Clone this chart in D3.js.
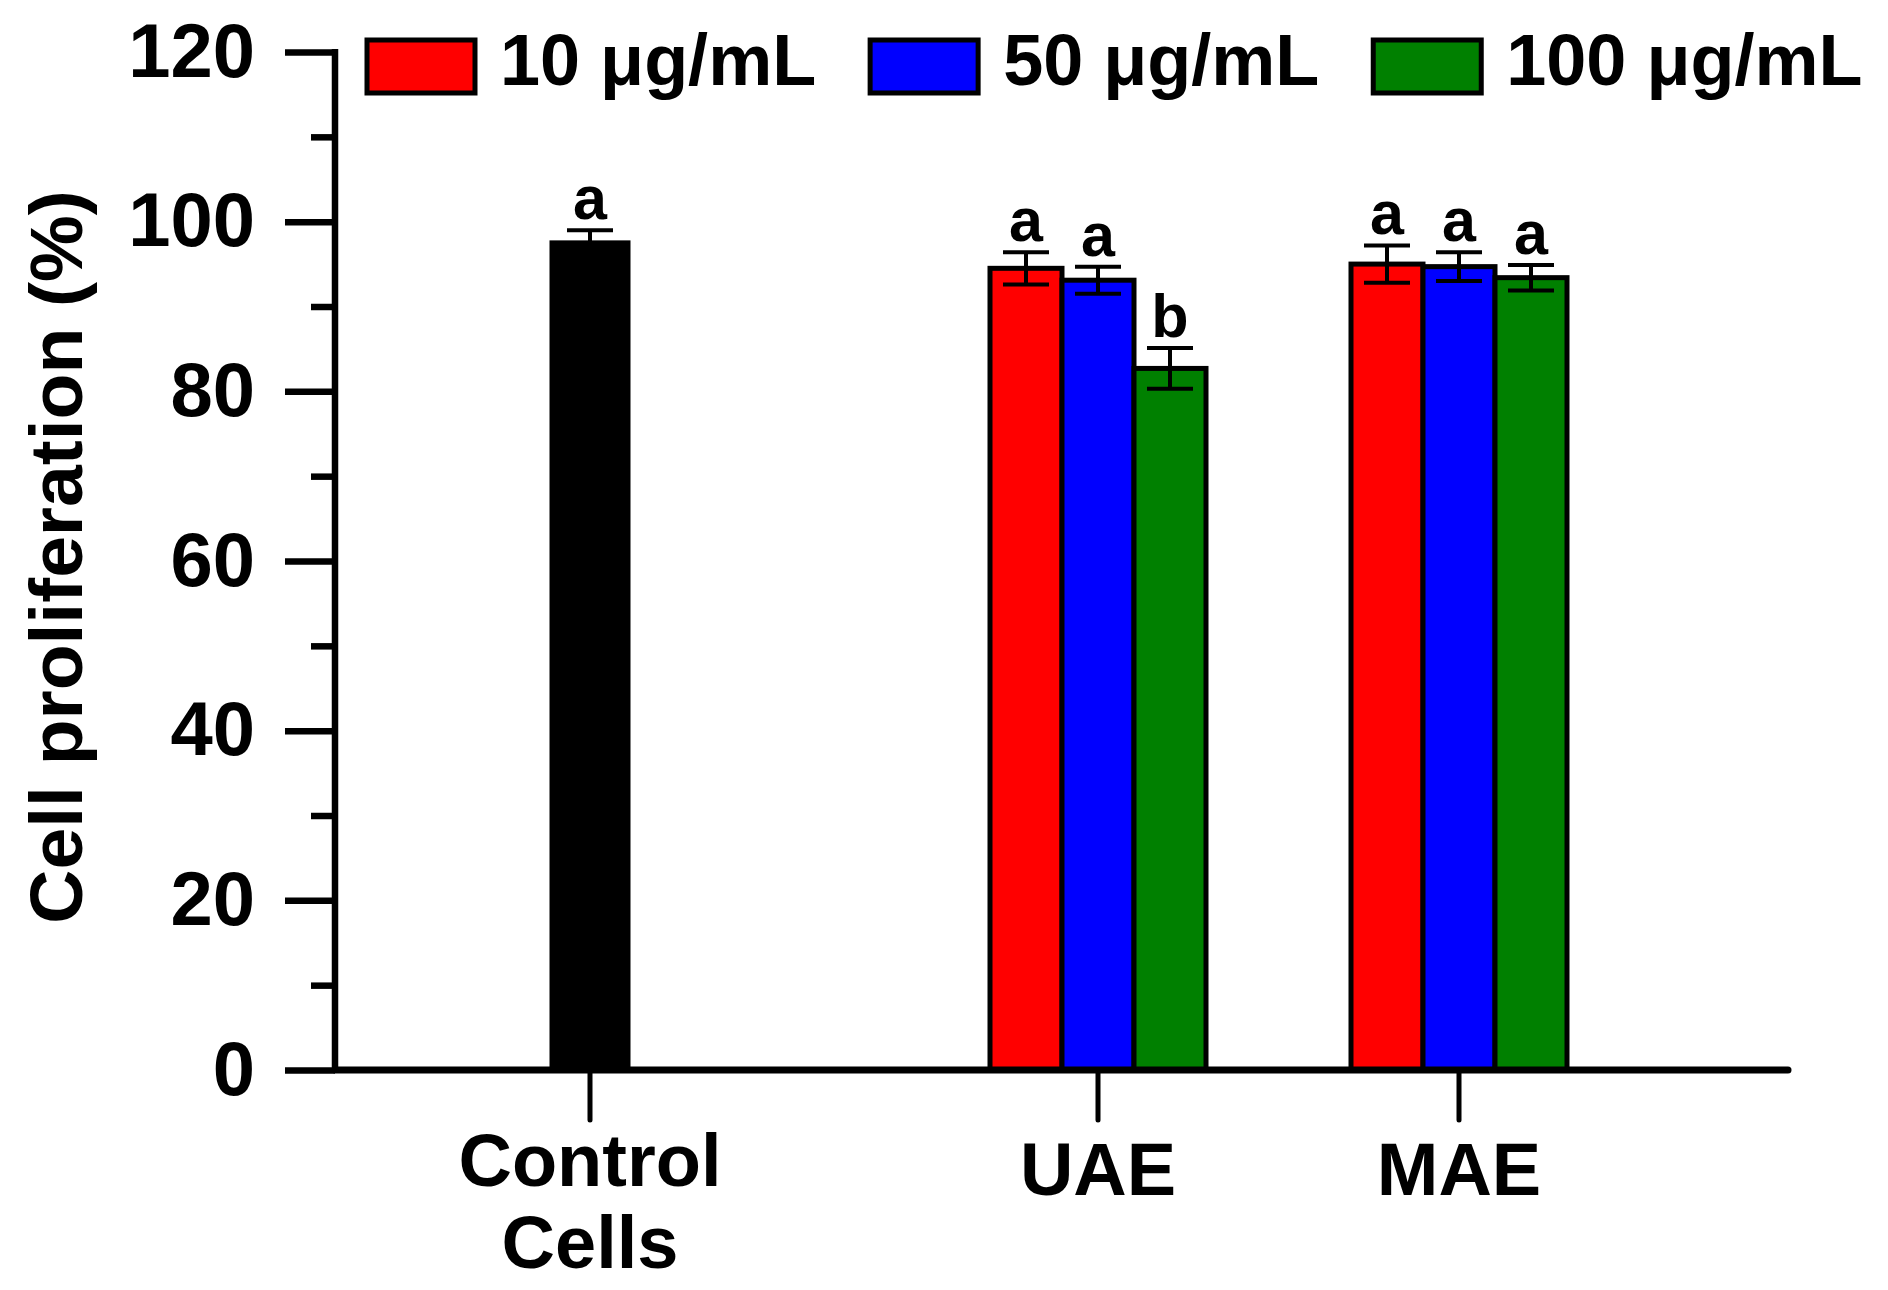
<!DOCTYPE html>
<html><head><meta charset="utf-8">
<script src="https://cdn.jsdelivr.net/npm/d3@7"></script>
<style>
body{margin:0;background:#fff}
text{font-family:"Liberation Sans",Arial,Helvetica,sans-serif;font-weight:bold;fill:#000}
</style>
</head><body>
<svg id="chart" width="1888" height="1290"></svg>
<script>
// ---- data ----
const categories = ["Control Cells", "UAE", "MAE"];
const categoryLines = [["Control", "Cells"], ["UAE"], ["MAE"]];
const seriesNames = ["10 μg/mL", "50 μg/mL", "100 μg/mL"];
const seriesColors = ["#ff0000", "#0000ff", "#008000"];
const controlValue = 97.5;
const controlError = 1.5;
const controlLetter = "a";
const uaeValues = [94.5, 93.1, 82.7];
const uaeErrors = [1.9, 1.6, 2.4];
const uaeLetters = ["a", "a", "b"];
const maeValues = [95.0, 94.7, 93.4];
const maeErrors = [2.2, 1.7, 1.5];
const maeLetters = ["a", "a", "a"];
const yTicks = [0, 20, 40, 60, 80, 100, 120];
const yMinorTicks = [10, 30, 50, 70, 90, 110];
const yTitle = "Cell proliferation (%)";

(function () {
// ---- layout ----
const svg = d3.select("#chart");
const pLeft = 335, pRight = 1788, pTop = 52, pBottom = 1070;
const y = d3.scaleLinear().domain([0, 120]).range([pBottom, pTop]);
const xCat = d3.scaleOrdinal().domain(categories).range([590, 1098, 1459]);
const xSeries = d3.scaleBand().domain(seriesNames).range([-108, 108]).padding(0);
const color = d3.scaleOrdinal().domain(seriesNames).range(seriesColors);

const bars = [{cat: categories[0], x0: xCat(categories[0]) - 38, w: 76, v: controlValue, e: controlError, l: controlLetter, fill: "#000"}];
[[categories[1], uaeValues, uaeErrors, uaeLetters], [categories[2], maeValues, maeErrors, maeLetters]].forEach(([c, vals, errs, lets]) => {
  seriesNames.forEach((s, i) => {
    bars.push({cat: c, x0: xCat(c) + xSeries(s), w: xSeries.bandwidth(), v: vals[i], e: errs[i], l: lets[i], fill: color(s)});
  });
});

// bars
svg.append("g").selectAll("rect").data(bars).join("rect")
  .attr("x", d => d.x0).attr("width", d => d.w)
  .attr("y", d => y(d.v)).attr("height", d => y(0) - y(d.v))
  .attr("fill", d => d.fill).attr("stroke", "#000").attr("stroke-width", 5);

// error bars
const eg = svg.append("g").attr("stroke", "#000").attr("stroke-width", 4);
bars.forEach(d => {
  const cx = d.x0 + d.w / 2;
  eg.append("line").attr("x1", cx).attr("x2", cx).attr("y1", y(d.v - d.e)).attr("y2", y(d.v + d.e));
  [d.v - d.e, d.v + d.e].forEach(v => {
    eg.append("line").attr("x1", cx - 23).attr("x2", cx + 23).attr("y1", y(v)).attr("y2", y(v));
  });
});

// letters
svg.append("g").selectAll("text").data(bars).join("text")
  .attr("x", d => d.x0 + d.w / 2).attr("y", d => y(d.v + d.e) - 11)
  .attr("text-anchor", "middle").attr("font-size", 61).text(d => d.l);

// y axis
const yAxis = svg.append("g").attr("transform", `translate(${pLeft},0)`)
  .call(d3.axisLeft(y).tickValues(yTicks).tickSize(50).tickPadding(30).tickFormat(d3.format("d")));
yAxis.select(".domain").remove();
yAxis.selectAll(".tick line").attr("stroke", "#000").attr("stroke-width", 6.5);
yAxis.selectAll(".tick text").attr("font-size", 76).attr("font-family", null).attr("fill", "#000");
const yMinor = svg.append("g").attr("transform", `translate(${pLeft},0)`)
  .call(d3.axisLeft(y).tickValues(yMinorTicks).tickSize(24).tickFormat(""));
yMinor.select(".domain").remove();
yMinor.selectAll(".tick line").attr("stroke", "#000").attr("stroke-width", 6.5);
svg.append("line").attr("x1", pLeft).attr("x2", pLeft).attr("y1", y(120) - 3).attr("y2", y(0))
  .attr("stroke", "#000").attr("stroke-width", 6.5);

// x axis
svg.append("line").attr("x1", pLeft).attr("x2", pRight).attr("y1", y(0)).attr("y2", y(0))
  .attr("stroke", "#000").attr("stroke-width", 7).attr("stroke-linecap", "round");
const xg = svg.append("g");
categories.forEach((c, i) => {
  xg.append("line").attr("x1", xCat(c)).attr("x2", xCat(c)).attr("y1", y(0)).attr("y2", y(0) + 50)
    .attr("stroke", "#000").attr("stroke-width", 5).attr("stroke-linecap", "round");
  const t = xg.append("text").attr("text-anchor", "middle").attr("font-size", 74)
    .attr("x", xCat(c)).attr("y", categoryLines[i].length > 1 ? 1186 : 1195);
  categoryLines[i].forEach((ln, j) => {
    t.append("tspan").attr("x", xCat(c)).attr("dy", j === 0 ? 0 : 82).text(ln);
  });
});

// y title
svg.append("text").attr("transform", "translate(82,557) rotate(-90)")
  .attr("text-anchor", "middle").attr("font-size", 75).text(yTitle);

// legend
let lx = 367;
seriesNames.forEach(s => {
  svg.append("rect").attr("x", lx).attr("y", 40).attr("width", 108).attr("height", 53)
    .attr("fill", color(s)).attr("stroke", "#000").attr("stroke-width", 5);
  const t = svg.append("text").attr("x", lx + 133).attr("y", 85).attr("font-size", 72).text(s);
  lx = lx + 133 + t.node().getComputedTextLength() + 54;
});
})();
</script>
</body></html>
